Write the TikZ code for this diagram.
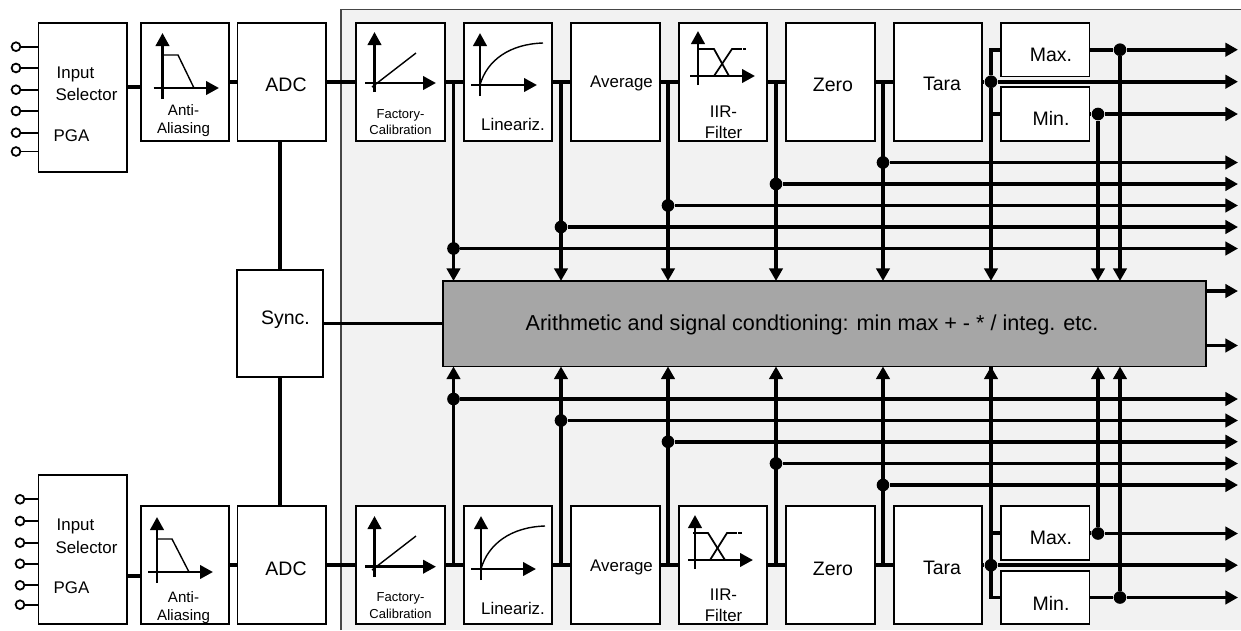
\documentclass[tikz,border=0pt]{standalone}
\usepackage{fontspec}
\setmainfont{Liberation Sans}
\usetikzlibrary{arrows.meta}
\definecolor{panelgrey}{RGB}{242,242,242}
\definecolor{maingrey}{RGB}{166,166,166}
\definecolor{panelline}{RGB}{70,70,70}
\tikzset{
  blockbox/.style={draw, fill=white, line width=1pt, inner sep=0pt, outer sep=0pt,
    minimum width=1.77cm, minimum height=2.36cm},
  halfbox/.style={blockbox, minimum height=1.07cm},
  inbox/.style={blockbox, minimum height=2.98cm},
  bus/.style={line width=2.2pt},
  busarrow/.style={bus, -{Triangle[length=7.2pt,width=7.6pt]}},
  plotaxis/.style={line width=1.6pt, -{Triangle[length=7.4pt,width=7.6pt]}},
  plotline/.style={line width=0.8pt},
  busdot/.style={circle, fill=black, inner sep=0pt, minimum size=7.2pt},
  pin/.style={circle, draw, fill=white, line width=1pt, inner sep=0pt, minimum size=5pt},
  smalltext/.style={font=\fontsize{7.4}{9.4}\selectfont, align=center, inner sep=0pt},
  midtext/.style={font=\fontsize{8.6}{10.2}\selectfont, align=center, inner sep=0pt},
  stdtext/.style={font=\fontsize{9.6}{11.8}\selectfont, align=center, inner sep=0pt},
  bigtext/.style={font=\fontsize{11.1}{12}\selectfont, inner sep=0pt}
}

\begin{document}
\begin{tikzpicture}[x=0.02cm,y=-0.02cm]
  \useasboundingbox (0,0) rectangle (1241,630);
  %% 1. Panel
  \fill[panelgrey] (341,9.5) rectangle (1241,630);
  \draw[panelline, line width=0.8pt] (341,630) -- (341,9.5) -- (1241,9.5);

  %% 2. Blocks
  \node[inbox] (inTop) at (82.7,97.5) {};
  \node[blockbox] (aaTop) at (185,81.7) {};
  \node[blockbox] (adcTop) at (281.7,81.7) {};
  \node[blockbox] (calTop) at (400.5,81.7) {};
  \node[blockbox] (linTop) at (508,81.7) {};
  \node[blockbox] (avgTop) at (615.5,81.7) {};
  \node[blockbox] (iirTop) at (723,81.7) {};
  \node[blockbox] (zeroTop) at (830.5,81.7) {};
  \node[blockbox] (taraTop) at (938,81.7) {};
  \node[halfbox] (maxTop) at (1045.3,49.7) {};
  \node[halfbox] (minTop) at (1045.3,114) {};

  \node[inbox] (inBot) at (82.7,549.5) {};
  \node[blockbox] (aaBot) at (185,565.2) {};
  \node[blockbox] (adcBot) at (281.7,565.2) {};
  \node[blockbox] (calBot) at (400.5,565.2) {};
  \node[blockbox] (linBot) at (508,565.2) {};
  \node[blockbox] (avgBot) at (615.5,565.2) {};
  \node[blockbox] (iirBot) at (723,565.2) {};
  \node[blockbox] (zeroBot) at (830.5,565.2) {};
  \node[blockbox] (taraBot) at (938,565.2) {};
  \node[halfbox] (maxBot) at (1045.3,533) {};
  \node[halfbox] (minBot) at (1045.3,597.5) {};

  \node[blockbox, minimum width=1.72cm, minimum height=2.14cm] (sync) at (280.3,323.5) {};
  \node[draw, fill=maingrey, line width=1pt, outer sep=0pt, minimum width=15.26cm, minimum height=1.71cm] (main) at (824.5,323.7) {};

  %% 3. Inputs
  \foreach \yy [count=\i] in {46.7,68,89.7,111,132.7,151.5}{
    \node[pin] (pinT\i) at (16,\yy) {};
    \draw[line width=1pt] (pinT\i) -- (pinT\i -| inTop.west);
  }
  \foreach \yy [count=\i] in {499.3,521,542.7,563.7,585.3,604.7}{
    \node[pin] (pinB\i) at (20,\yy) {};
    \draw[line width=1pt] (pinB\i) -- (pinB\i -| inBot.west);
  }

  %% 4. Block chains
  \coordinate (outT) at (127,87);
  \coordinate (outB) at (127,576);
  \draw[bus] (outT) -- (outT -| aaTop.west);
  \draw[bus] (outB) -- (outB -| aaBot.west);
  \draw[bus] (aaTop.east) -- (adcTop.west);
  \draw[bus] (aaBot.east) -- (adcBot.west);
  \draw[bus] (adcTop.east) -- (calTop.west);
  \draw[bus] (adcBot.east) -- (calBot.west);
  \draw[bus] (calTop.east) -- (linTop.west);
  \draw[bus] (calBot.east) -- (linBot.west);
  \draw[bus] (linTop.east) -- (avgTop.west);
  \draw[bus] (linBot.east) -- (avgBot.west);
  \draw[bus] (avgTop.east) -- (iirTop.west);
  \draw[bus] (avgBot.east) -- (iirBot.west);
  \draw[bus] (iirTop.east) -- (zeroTop.west);
  \draw[bus] (iirBot.east) -- (zeroBot.west);
  \draw[bus] (zeroTop.east) -- (taraTop.west);
  \draw[bus] (zeroBot.east) -- (taraBot.west);
  \draw[bus] (sync.north) -- (sync.north |- adcTop.south);
  \draw[bus] (sync.south) -- (sync.south |- adcBot.north);
  \draw[line width=1.3pt] (sync.east) -- (sync.east -| main.west);

  %% 5. Taps and buses
  \coordinate (tipx) at (1238,0);
  \foreach \tap/\xx/\yy/\yb in {tA/453.5/248.5/399, tB/561/227/420.5, tC/668/205.5/441.7, tD/776/184/463.5, tE/883/162.5/485}{
    \coordinate (\tap) at (\xx,81.7);
    \coordinate (\tap b) at (\xx,565.2);
    \node[busdot] (\tap d) at (\xx,\yy) {};
    \node[busdot] (\tap e) at (\xx,\yb) {};
    \draw[busarrow] (\tap) -- (\tap |- main.north);
    \draw[busarrow] (\tap b) -- (\tap b |- main.south);
    \draw[busarrow] (\tap d) -- (\tap d -| tipx);
    \draw[busarrow] (\tap e) -- (\tap e -| tipx);
  }

  \node[busdot] (taraT) at (991,81.7) {};
  \node[busdot] (taraB) at (991,565.2) {};
  \draw[bus] (taraTop.east) -- (taraT);
  \draw[bus] (taraBot.east) -- (taraB);
  \draw[busarrow] (taraT) -- (taraT -| tipx);
  \draw[busarrow] (taraB) -- (taraB -| tipx);
  \draw[busarrow] (taraT) -- (taraT |- main.north);
  \draw[bus] (taraB) -- (taraB |- main.south);
  \draw[bus] (maxTop.west) -| (taraT);
  \draw[bus] (minTop.west) -| (taraT);
  \draw[bus] (maxBot.west) -| (taraB);
  \draw[busarrow] (minBot.west) -| (main.south -| taraB);

  \node[busdot] (maxT) at (1120,49.7) {};
  \node[busdot] (minT) at (1098,114) {};
  \node[busdot] (maxB) at (1098,533.5) {};
  \node[busdot] (minB) at (1120,597.5) {};
  \draw[bus] (maxTop.east) -- (maxT);
  \draw[bus] (minTop.east) -- (minT);
  \draw[bus] (maxBot.east) -- (maxB);
  \draw[bus] (minBot.east) -- (minB);
  \draw[busarrow] (maxT) -- (maxT -| tipx);
  \draw[busarrow] (minT) -- (minT -| tipx);
  \draw[busarrow] (maxB) -- (maxB -| tipx);
  \draw[busarrow] (minB) -- (minB -| tipx);
  \draw[busarrow] (maxT) -- (maxT |- main.north);
  \draw[busarrow] (minT) -- (minT |- main.north);
  \draw[busarrow] (maxB) -- (maxB |- main.south);
  \draw[busarrow] (minB) -- (minB |- main.south);

  \coordinate (mainOutA) at (1206,291);
  \coordinate (mainOutB) at (1206,345.5);
  \draw[busarrow] (mainOutA) -- (mainOutA -| tipx);
  \draw[busarrow] (mainOutB) -- (mainOutB -| tipx);

  %% 6. Small plots
  % anti-aliasing
  \draw[plotaxis] (162.5,99) -- (162.5,33);
  \draw[plotaxis] (153.5,88) -- (219,88);
  \draw[plotline] (162.5,55) -- (178,55) -- (194,88);
  \draw[plotaxis] (157,582.7) -- (157,517);
  \draw[plotaxis] (148,572) -- (213,572);
  \draw[plotline] (157,539) -- (172,539) -- (189,572);
  % calibration
  \draw[plotaxis] (374.5,92) -- (374.5,32);
  \draw[plotaxis] (365,83) -- (436,83);
  \draw[plotline] (372,87) -- (416,53);
  \draw[plotaxis] (374.5,577) -- (374.5,516);
  \draw[plotaxis] (365,566.7) -- (436,566.7);
  \draw[plotline] (372,570) -- (416,536);
  % linearization
  \draw[plotaxis] (480,96) -- (480,33);
  \draw[plotaxis] (471,85) -- (537,85);
  \draw[plotline] (480,85) .. controls (487,60) and (510,44) .. (543,43);
  \draw[plotaxis] (481,580) -- (481,516);
  \draw[plotaxis] (471,569) -- (536,569);
  \draw[plotline] (481,569) .. controls (488,544) and (511,527) .. (545,526);
  % filter
  \draw[plotaxis] (698,85) -- (698,31);
  \draw[plotaxis] (690,76) -- (755,76);
  \draw[line width=1pt] (699,49) -- (714,49) -- (729,76);
  \draw[line width=1pt] (714,76) -- (732,49) -- (737,49);
  \draw[line width=1pt, dash pattern=on 2.6pt off 0.8pt] (737,49) -- (746,49);
  \draw[plotaxis] (695,569) -- (695,515);
  \draw[plotaxis] (688,560) -- (753,560);
  \draw[line width=1pt] (693,533) -- (708,533) -- (725,560);
  \draw[line width=1pt] (710,560) -- (727,533) -- (732,533);
  \draw[line width=1pt, dash pattern=on 2.6pt off 0.8pt] (732,533) -- (742,533);

  %% 7. Labels
  \node[stdtext] (lInputT) at (75.5,74) {Input};
  \node[stdtext] (lSelT) at (86.5,94) {Selector};
  \node[stdtext] (lPgaT) at (71.5,135.5) {PGA};
  \node[midtext] (lAaT) at (183.5,121) {Anti-\\Aliasing};
  \node[bigtext] (lAdcT) at (286,85) {ADC};
  \node[smalltext] (lCalT) at (400.5,122) {Factory-\\Calibration};
  \node[stdtext] (lLinT) at (513,124) {Lineariz.};
  \node[stdtext] (lAvgT) at (621.5,83) {Average};
  \node[stdtext, font=\fontsize{9.6}{12}\selectfont] (lIirT) at (723.5,122) {IIR-\\Filter};
  \node[bigtext] (lZeroT) at (833,84.5) {Zero};
  \node[bigtext] (lTaraT) at (942,83.5) {Tara};
  \node[bigtext] (lMaxT) at (1051,55) {Max.};
  \node[bigtext] (lMinT) at (1051,118.5) {Min.};

  \node[stdtext] (lInputB) at (75.5,526.5) {Input};
  \node[stdtext] (lSelB) at (86.5,547) {Selector};
  \node[stdtext] (lPgaB) at (71.5,587.5) {PGA};
  \node[midtext] (lAaB) at (183.5,608) {Anti-\\Aliasing};
  \node[bigtext] (lAdcB) at (286,569) {ADC};
  \node[smalltext] (lCalB) at (400.5,605.5) {Factory-\\Calibration};
  \node[stdtext] (lLinB) at (513,608) {Lineariz.};
  \node[stdtext] (lAvgB) at (621.5,567) {Average};
  \node[stdtext, font=\fontsize{9.6}{12}\selectfont] (lIirB) at (723.5,605.5) {IIR-\\Filter};
  \node[bigtext] (lZeroB) at (833,568.5) {Zero};
  \node[bigtext] (lTaraB) at (942,567.5) {Tara};
  \node[bigtext] (lMaxB) at (1051,538) {Max.};
  \node[bigtext] (lMinB) at (1051,603) {Min.};

  \node[bigtext] (lSync) at (285.5,319.5) {Sync.};
  \node[bigtext, font=\fontsize{12.3}{14}\selectfont] (lMain) at (812,325) {Arithmetic and signal condtioning: min max + - * / integ. etc.};
\end{tikzpicture}
\end{document}
